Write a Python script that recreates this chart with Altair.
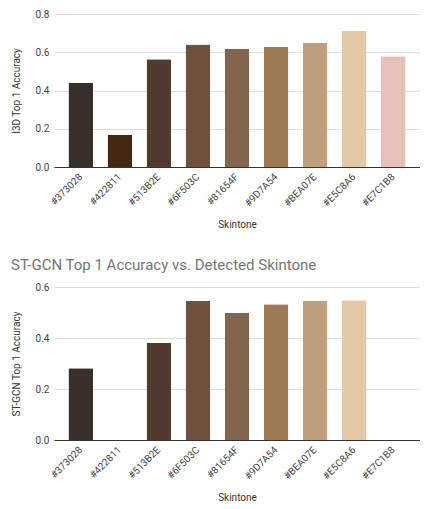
import altair as alt
import pandas as pd

# Skintone categories (the hex codes double as the bar colours)
skintones = ["#373028", "#422811", "#513B2E", "#6F503C", "#81654F",
             "#9D7A54", "#BEA07E", "#E5C8A6", "#E7C1B8"]

# Top-1 accuracy per skintone
i3d_acc = [0.44, 0.168, 0.564, 0.641, 0.617, 0.629, 0.648, 0.713, 0.579]
stgcn_acc = [0.281, 0.0, 0.380, 0.546, 0.498, 0.532, 0.546, 0.548, 0.0]

FONT = "Roboto"
LABEL_COLOR = "#444444"


def accuracy_bars(values, y_title, y_max, title=None):
    df = pd.DataFrame({"Skintone": skintones, "acc": values})
    chart = alt.Chart(df).mark_bar(cornerRadiusTopLeft=1, cornerRadiusTopRight=1).encode(
        x=alt.X(
            "Skintone:N",
            sort=skintones,
            title="Skintone",
            scale=alt.Scale(paddingInner=0.37, paddingOuter=0.37),
            axis=alt.Axis(labelAngle=-45, labelAlign="right", labelBaseline="middle",
                          ticks=False, labelPadding=8, domainColor="#333333",
                          titlePadding=11),
        ),
        y=alt.Y(
            "acc:Q",
            title=y_title,
            scale=alt.Scale(domain=[0, y_max]),
            axis=alt.Axis(values=[v / 10 for v in range(0, int(y_max * 10) + 1, 2)],
                          format=".1f", domain=False, ticks=False,
                          labelPadding=5, titlePadding=14),
        ),
        color=alt.Color("Skintone:N", scale=alt.Scale(domain=skintones, range=skintones),
                        legend=None),
    ).properties(width=366, height=153)
    if title:
        chart = chart.properties(title=alt.TitleParams(
            text=title, anchor="start", frame="bounds", fontSize=15,
            fontWeight="normal", color="#757575", font=FONT, offset=9))
    return chart


top = accuracy_bars(i3d_acc, "I3D Top 1 Accuracy", 0.8)
bottom = accuracy_bars(stgcn_acc, "ST-GCN Top 1 Accuracy", 0.6,
                       title="ST-GCN Top 1 Accuracy vs. Detected Skintone")

chart = alt.vconcat(top, bottom, spacing=28).properties(
    padding={"left": 3, "top": 1, "right": 0, "bottom": 0}
).configure_view(stroke=None).configure_axis(
    labelFont=FONT, titleFont=FONT, labelColor=LABEL_COLOR, titleColor="#333333",
    labelFontSize=10, titleFontSize=10, titleFontWeight="normal",
    gridColor="#dedede",
).configure_axisX(grid=False)

chart.save("out.html", embed_options={"renderer": "svg", "actions": False})
